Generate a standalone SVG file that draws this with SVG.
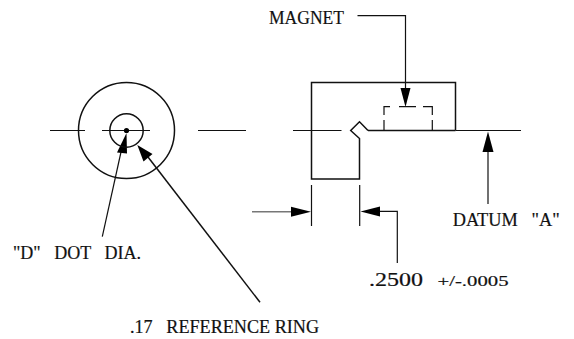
<svg xmlns="http://www.w3.org/2000/svg" width="574" height="339" viewBox="0 0 574 339">
<style>
.l{fill:none;stroke:#111;stroke-width:1.2}
.o{fill:none;stroke:#111;stroke-width:1.5}
.h{fill:#000;stroke:none}
.g{fill:none;stroke:#777;stroke-width:1.6}
text{font-family:"Liberation Serif",serif;font-size:18px;fill:#111;white-space:pre;stroke:#111;stroke-width:.2}
</style>
<rect width="574" height="339" fill="#fff"/>
<g id="connectors">
<path class="l" d="M50 130.5H85M102 130.5H150M198 130.5H246M293 130.5H341.5"/>
<path class="o" d="M368 130.5H455.5"/>
<path class="l" d="M455.5 130.5H521"/>
<path class="l" d="M357.5 15.7H405.5V90"/>
<path class="h" d="M405.5 107L400.5 88H410.5Z"/>
<path class="l" d="M488 150V204"/>
<path class="h" d="M488 131.5L482.5 152H493.5Z"/>
<path class="l" d="M311.5 185V226M359.7 185V226"/>
<path class="g" d="M252 211.7H292"/>
<path class="h" d="M311 211.7L291 206.7V216.7Z"/>
<path class="l" d="M378 211.3H397.3V263"/>
<path class="h" d="M360.5 211.5L380 206.5V216.5Z"/>
<path class="l" d="M121 152L102.3 236.7"/>
<path class="h" d="M126.5 133L117 152.5L127 153.5Z"/>
<path class="o" d="M148 157L260 302.3"/>
<path class="h" d="M137.3 145L143.5 161.5L152.5 154Z"/>
</g>
<g id="ring-view">
<circle class="o" cx="126.5" cy="130.5" r="48"/>
<circle class="o" cx="126.5" cy="130.5" r="16.7"/>
<circle class="h" cx="126.5" cy="130.5" r="2.6"/>
</g>
<g id="part">
<path class="o" d="M368 130.5L359.5 121.7L350.7 130.5L359.5 138.5V179H311.5V82.5H455.5V130.5"/>
<path class="l" d="M384 130.5V120M384 115V106.7H390M399 106.7H416M423 106.7H432.3V115M432.3 120V130.5"/>
</g>
<g id="labels">
<text x="269" y="24" textLength="75" lengthAdjust="spacingAndGlyphs">MAGNET</text>
<text x="452.7" y="226" textLength="107" lengthAdjust="spacingAndGlyphs">DATUM   "A"</text>
<text x="369" y="286" textLength="54" lengthAdjust="spacingAndGlyphs" style="font-size:19px">.2500</text>
<text x="437.5" y="286" textLength="71" lengthAdjust="spacingAndGlyphs" style="font-size:15px">+/-.0005</text>
<text x="13" y="259" textLength="128" lengthAdjust="spacingAndGlyphs">"D"   DOT   DIA.</text>
<text x="130" y="333" textLength="189" lengthAdjust="spacingAndGlyphs">.17   REFERENCE RING</text>
</g>
</svg>
